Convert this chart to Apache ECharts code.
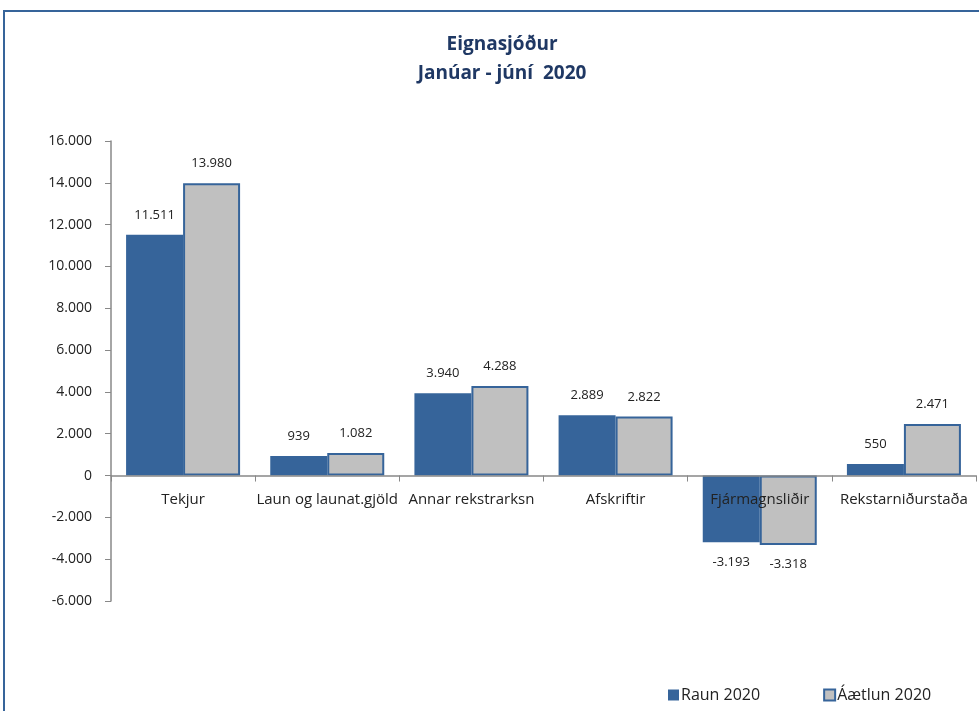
<!DOCTYPE html>
<html>
<head>
<meta charset="utf-8">
<script src="https://cdn.jsdelivr.net/npm/echarts@6/dist/echarts.min.js"></script>
<style>
html, body { margin: 0; padding: 0; background: #fff; }
#chart { width: 979px; height: 711px; }
</style>
</head>
<body>
<div id="chart"></div>
<script>
const categories = ['Tekjur', 'Laun og launat.gjöld', 'Annar rekstrarksn', 'Afskriftir', 'Fjármagnsliðir', 'Rekstarniðurstaða'];
const raun = [11511, 939, 3940, 2889, -3193, 550];
const aaetlun = [13980, 1082, 4288, 2822, -3318, 2471];
const seriesNames = ['Raun 2020', 'Áætlun 2020'];

const fmt = v => {
    const s = Math.abs(v).toString().replace(/\B(?=(\d{3})+(?!\d))/g, '.');
    return (v < 0 ? '-' : '') + s;
};

const chart = echarts.init(document.getElementById('chart'));

const dataLabel = {
    show: true,
    position: 'top',
    distance: 13,
    fontSize: 13,
    color: '#222',
    fontFamily: 'Open Sans',
    formatter: p => fmt(p.value)
};

const makeData = arr => arr.map(v => ({
    value: v,
    label: { position: v < 0 ? 'bottom' : 'top' }
}));

const option = {
    animation: false,
    textStyle: { fontFamily: 'Open Sans' },
    graphic: [
        {
            type: 'polyline',
            shape: { points: [[4, 720], [4, 11], [990, 11]] },
            style: { stroke: '#36649a', lineWidth: 2, fill: null }
        }
    ],
    title: {
        text: 'Eignasjóður\nJanúar - júní  2020',
        left: 497,
        textAlign: 'center',
        top: 25,
        textStyle: {
            fontFamily: 'Open Sans',
            fontSize: 19,
            fontWeight: 'bold',
            color: '#1f3864',
            lineHeight: 29
        }
    },
    legend: {
        data: seriesNames,
        left: 663,
        bottom: 3,
        itemWidth: 11,
        itemHeight: 11,
        itemGap: 63,
        icon: 'rect',
        textStyle: { fontSize: 16, color: '#222', padding: [0, 0, 0, -3] }
    },
    grid: {
        left: 111,
        right: 3,
        top: 141,
        bottom: 110,
        containLabel: false
    },
    xAxis: {
        type: 'category',
        data: categories,
        axisLine: { onZero: true, lineStyle: { color: '#888', width: 1.5 } },
        axisTick: { show: true, length: 6, lineStyle: { color: '#888' } },
        axisLabel: { fontSize: 15, color: '#222', margin: -109, interval: 0 },
        z: 10
    },
    yAxis: {
        type: 'value',
        min: -6000,
        max: 16000,
        interval: 2000,
        axisLine: { show: true, lineStyle: { color: '#888', width: 1.5 } },
        axisTick: { show: true, length: 6, lineStyle: { color: '#888' } },
        axisLabel: { fontSize: 14, color: '#222', margin: 19, formatter: v => fmt(v) },
        splitLine: { show: false }
    },
    series: [
        {
            name: seriesNames[0],
            type: 'bar',
            data: makeData(raun),
            barWidth: 57,
            barGap: '0%',
            itemStyle: { color: '#36649a' },
            label: dataLabel
        },
        {
            name: seriesNames[1],
            type: 'bar',
            data: makeData(aaetlun),
            barWidth: 57,
            itemStyle: { color: '#c0c0c0', borderColor: '#36649a', borderWidth: 2 },
            label: dataLabel
        }
    ]
};

chart.setOption(option);

window.addEventListener('resize', _ => {
    chart.resize();
});
</script>
</body>
</html>
